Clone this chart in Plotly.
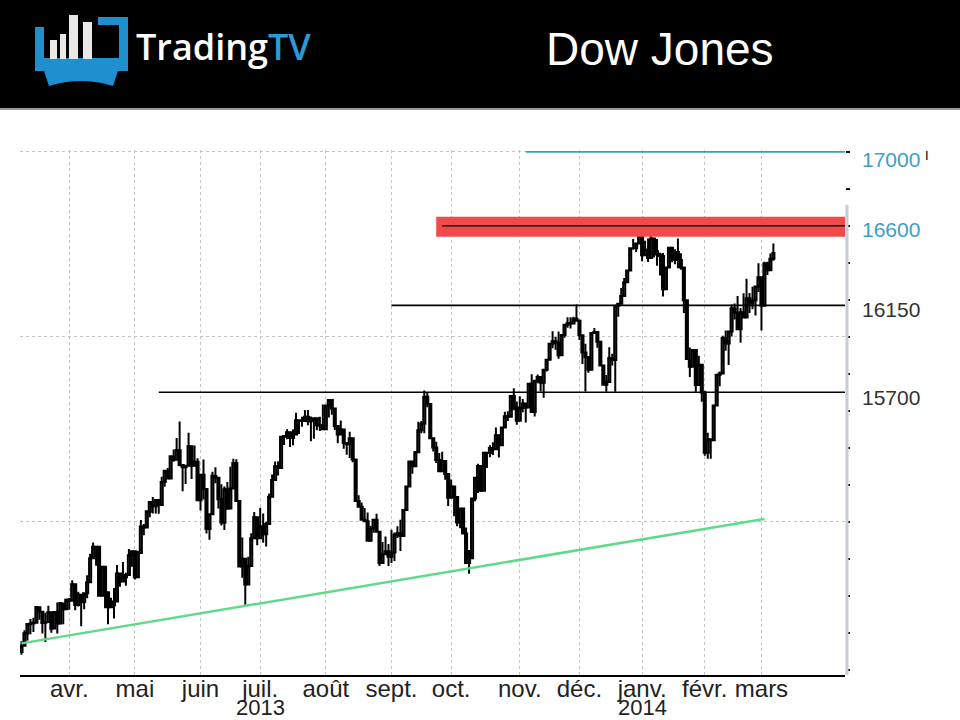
import pandas as pd
import plotly.graph_objects as go

# Dow Jones daily candles, 7 Mar 2013 -> 7 Mar 2014
start_day = "2013-03-07"
end_day = "2014-03-07"
holidays = ["2013-03-29", "2013-05-27", "2013-07-04", "2013-09-02", "2013-11-28",
            "2013-12-25", "2014-01-01", "2014-01-20", "2014-02-17"]

opens = [
    # mar 2013
    14296, 14329, 14396, 14446, 14449, 14454, 14538, 14513, 14453, 14457, 14510, 14422, 14512, 14449, 14558, 14527,
    # apr
    14578, 14573, 14662, 14550, 14605, 14566, 14613, 14673, 14802, 14863, 14864, 14600, 14756, 14619, 14538, 14548,
    14568, 14720, 14676, 14700, 14712, 14819,
    # may
    14840, 14700, 14831, 14973, 14969, 15054, 15105, 15083, 15118, 15090, 15214, 15274, 15233, 15353, 15335, 15387,
    15306, 15294, 15303, 15408, 15302, 15324,
    # jun
    15116, 15254, 15177, 14960, 15040, 15247, 15238, 15122, 14994, 15176, 15071, 15180, 15317, 15112, 14758, 14799,
    14660, 14760, 14910, 15024,
    # jul
    14911, 14974, 14932, 14988, 15135, 15225, 15300, 15291, 15460, 15464, 15484, 15452, 15471, 15548, 15544, 15545,
    15568, 15543, 15556, 15559, 15521, 15520,
    # aug
    15500, 15628, 15658, 15612, 15518, 15471, 15498, 15425, 15419, 15451, 15337, 15112, 15081, 15010, 15002, 14897,
    14963, 15010, 14946, 14776, 14824, 14840,
    # sep
    14810, 14834, 14930, 14937, 14922, 15063, 15191, 15326, 15300, 15376, 15494, 15529, 15676, 15636, 15451, 15401,
    15334, 15273, 15328, 15258,
    # oct
    15129, 15191, 15133, 14996, 15072, 14936, 14776, 14802, 15126, 15237, 15301, 15168, 15373, 15371, 15399, 15392,
    15468, 15413, 15509, 15570, 15568, 15680, 15618,
    # nov
    15546, 15615, 15639, 15618, 15746, 15593, 15762, 15783, 15751, 15822, 15876, 15962, 15976, 15968, 15900, 16010,
    16065, 16073, 16072, 16097,
    # dec
    16086, 16008, 15915, 15889, 15822, 16020, 16026, 15973, 15844, 15740, 15755, 15885, 15875, 16168, 16179, 16221,
    16295, 16358, 16479, 16479, 16505,
    # jan 2014
    16572, 16441, 16470, 16426, 16531, 16463, 16445, 16437, 16257, 16374, 16482, 16418, 16459, 16415, 16374, 16198,
    15880, 15838, 15929, 15739, 15849,
    # feb
    15699, 15373, 15446, 15441, 15629, 15795, 15801, 15994, 15964, 16028, 16154, 16130, 16041, 16133, 16104, 16208,
    16180, 16198, 16272,
    # mar
    16322, 16168, 16396, 16360, 16422,
]

highs = [
    14354, 14413, 14448, 14474, 14480, 14540, 14539, 14513, 14508, 14546, 14510, 14515, 14563, 14561, 14558, 14585,
    14587, 14684, 14662, 14621, 14605, 14613, 14710, 14826, 14887, 14865, 14866, 14757, 14756, 14624, 14589, 14641,
    14766, 14720, 14782, 14724, 14853, 14843,
    14840, 14843, 15009, 14988, 15056, 15106, 15133, 15119, 15118, 15243, 15281, 15291, 15355, 15391, 15452, 15542,
    15306, 15294, 15481, 15408, 15412, 15343,
    15254, 15337, 15177, 15040, 15270, 15295, 15238, 15202, 15191, 15215, 15297, 15340, 15338, 15112, 14914, 14799,
    14810, 14938, 15053, 15024,
    15076, 15045, 15000, 15153, 15255, 15326, 15327, 15461, 15467, 15500, 15487, 15499, 15589, 15548, 15568, 15604,
    15604, 15569, 15559, 15559, 15567, 15634,
    15628, 15658, 15658, 15612, 15518, 15547, 15498, 15425, 15487, 15451, 15337, 15143, 15104, 15074, 15050, 14978,
    15013, 15043, 14946, 14890, 14920, 14880,
    14957, 14942, 14975, 15010, 15063, 15192, 15326, 15326, 15382, 15541, 15545, 15709, 15702, 15636, 15451, 15433,
    15372, 15378, 15328, 15258,
    15228, 15191, 15133, 15073, 15072, 14969, 14847, 15126, 15238, 15314, 15301, 15376, 15376, 15414, 15430, 15509,
    15468, 15514, 15594, 15597, 15680, 15721, 15650,
    15678, 15663, 15639, 15750, 15797, 15764, 15796, 15783, 15822, 15877, 15962, 16030, 15999, 16028, 16010, 16065,
    16106, 16105, 16108, 16174,
    16093, 16008, 15962, 15896, 16021, 16048, 16026, 15979, 15844, 15793, 15944, 15908, 16168, 16183, 16264, 16318,
    16358, 16483, 16529, 16505, 16588,
    16572, 16519, 16532, 16563, 16532, 16529, 16454, 16453, 16374, 16487, 16482, 16473, 16531, 16451, 16374, 16198,
    15942, 15930, 15929, 15898, 15849,
    15708, 15481, 15446, 15632, 15798, 15812, 16005, 16034, 16032, 16175, 16180, 16220, 16155, 16235, 16314, 16237,
    16270, 16276, 16398,
    16322, 16406, 16406, 16450, 16505,
]

lows = [
    14280, 14329, 14358, 14391, 14403, 14454, 14470, 14395, 14350, 14457, 14400, 14422, 14395, 14449, 14445, 14527,
    14524, 14573, 14521, 14541, 14434, 14527, 14586, 14673, 14799, 14762, 14598, 14600, 14532, 14445, 14538, 14477,
    14568, 14648, 14676, 14653, 14712, 14756,
    14687, 14700, 14831, 14927, 14969, 15024, 15045, 15044, 15043, 15090, 15189, 15228, 15233, 15324, 15335, 15300,
    15164, 15204, 15303, 15231, 15302, 15115,
    15061, 15120, 14936, 14902, 15040, 15208, 15071, 14980, 14955, 15068, 15071, 15180, 15112, 14758, 14697, 14551,
    14660, 14760, 14910, 14872,
    14911, 14886, 14866, 14988, 15135, 15225, 15250, 15291, 15415, 15446, 15404, 15413, 15471, 15474, 15513, 15540,
    15522, 15435, 15449, 15495, 15491, 15497,
    15500, 15563, 15579, 15496, 15424, 15471, 15395, 15362, 15345, 15321, 15108, 15081, 15010, 15002, 14897, 14897,
    14940, 14946, 14760, 14776, 14820, 14760,
    14777, 14788, 14912, 14842, 14922, 15063, 15191, 15259, 15300, 15376, 15478, 15478, 15619, 15451, 15379, 15317,
    15270, 15273, 15227, 15085,
    15129, 15030, 14976, 14964, 14935, 14776, 14719, 14802, 15110, 15155, 15160, 15168, 15291, 15349, 15361, 15392,
    15347, 15413, 15509, 15545, 15568, 15603, 15524,
    15546, 15592, 15536, 15618, 15593, 15569, 15748, 15704, 15670, 15812, 15876, 15938, 15930, 15881, 15900, 15995,
    16049, 16045, 16070, 16085,
    15982, 15853, 15704, 15806, 15822, 16015, 15941, 15843, 15739, 15703, 15755, 15845, 15703, 16108, 16179, 16221,
    16295, 16358, 16471, 16458, 16505,
    16408, 16441, 16405, 16426, 16429, 16384, 16332, 16218, 16257, 16374, 16403, 16392, 16371, 16363, 16128, 15879,
    15783, 15838, 15703, 15739, 15648,
    15356, 15341, 15340, 15441, 15629, 15732, 15801, 15924, 15847, 16002, 16094, 16036, 15968, 16103, 16104, 16129,
    16149, 16115, 16242,
    16034, 16168, 16334, 16360, 16411,
]

closes = [
    14329, 14397, 14447, 14450, 14455, 14539, 14514, 14452, 14456, 14511, 14421, 14512, 14448, 14560, 14527, 14578,
    14573, 14662, 14550, 14606, 14565, 14613, 14673, 14802, 14865, 14865, 14599, 14757, 14619, 14537, 14548, 14568,
    14720, 14676, 14700, 14712, 14819, 14840,
    14700, 14831, 14974, 14969, 15056, 15106, 15083, 15118, 15091, 15215, 15275, 15233, 15354, 15335, 15388, 15307,
    15294, 15303, 15409, 15302, 15324, 15116,
    15254, 15177, 14960, 15040, 15248, 15238, 15122, 14995, 15176, 15070, 15180, 15318, 15112, 14758, 14800, 14660,
    14760, 14910, 15024, 14910,
    14975, 14932, 14988, 15135, 15225, 15300, 15291, 15460, 15464, 15484, 15452, 15471, 15548, 15544, 15545, 15568,
    15543, 15556, 15559, 15521, 15520, 15500,
    15628, 15658, 15612, 15518, 15471, 15498, 15425, 15419, 15451, 15337, 15112, 15081, 15010, 15002, 14897, 14963,
    15010, 14946, 14776, 14824, 14840, 14810,
    14834, 14930, 14937, 14922, 15063, 15191, 15326, 15300, 15376, 15494, 15529, 15676, 15636, 15451, 15401, 15334,
    15273, 15328, 15258, 15129,
    15191, 15133, 14996, 15072, 14936, 14776, 14802, 15126, 15237, 15301, 15168, 15373, 15371, 15399, 15392, 15468,
    15413, 15509, 15570, 15568, 15680, 15618, 15546,
    15615, 15639, 15618, 15746, 15593, 15762, 15783, 15751, 15822, 15876, 15962, 15976, 15968, 15900, 16010, 16065,
    16073, 16072, 16097, 16086,
    16008, 15915, 15889, 15822, 16020, 16026, 15973, 15844, 15740, 15755, 15885, 15875, 16168, 16179, 16221, 16295,
    16358, 16479, 16479, 16505, 16577,
    16441, 16470, 16426, 16531, 16463, 16445, 16437, 16257, 16374, 16482, 16418, 16459, 16415, 16374, 16198, 15880,
    15838, 15929, 15739, 15849, 15699,
    15373, 15446, 15441, 15629, 15795, 15801, 15994, 15964, 16028, 16154, 16130, 16041, 16133, 16104, 16208, 16180,
    16198, 16272, 16322,
    16168, 16396, 16360, 16422, 16453,
]

# month ticks (first trading day of each month)
month_days = ["2013-04-01", "2013-05-01", "2013-06-03", "2013-07-01", "2013-08-01", "2013-09-03",
              "2013-10-01", "2013-11-01", "2013-12-02", "2014-01-02", "2014-02-03", "2014-03-03"]
month_names = ["avr.", "mai", "juin", "juil.", "août", "sept.", "oct.", "nov.", "déc.", "janv.", "févr.", "mars"]
year_days = ["2013-07-01", "2014-01-02"]
year_names = ["2013", "2014"]

# drawn levels (start day, value) and their labels
level_starts = ["2013-11-05", "2013-09-26", "2013-09-03", "2013-05-13"]
level_values = [17000, 16600, 16170, 15700]
label_values = [17000, 16600, 16150, 15700]
label_shifts = [-8, -4, 0, -5]
label_colors = ["#3f9dc6", "#3f9dc6", "#333333", "#333333"]
level_colors = ["#3aa0ba", "black", "black", "black"]
zone_start = "2013-09-24"
zone_low, zone_high = 16541, 16649

trend_days = ["2013-03-07", "2014-03-04"]
trend_values = [14342, 15015]

dates = [d for d in pd.bdate_range(start_day, end_day) if d.strftime("%Y-%m-%d") not in holidays]
assert len(dates) == len(closes) == len(opens) == len(highs) == len(lows)
xs = [d + pd.Timedelta(hours=12) for d in dates]

def noon(d):
    return pd.Timestamp(d) + pd.Timedelta(hours=12)

# pixel -> paper helpers (plot area 20..845 x 150..675)
def px(x):
    return (x - 20) / 825

def py(y):
    return (675 - y) / 525

axis_font = "Liberation Sans, Arial"
fig = go.Figure()

fig.add_trace(go.Candlestick(
    x=xs, open=opens, high=highs, low=lows, close=closes,
    increasing=dict(line=dict(color="black", width=2), fillcolor="white"),
    decreasing=dict(line=dict(color="black", width=2), fillcolor="black"),
    whiskerwidth=0, showlegend=False, hoverinfo="skip",
))

fig.add_trace(go.Scatter(
    x=[noon(d) for d in trend_days], y=trend_values, mode="lines",
    line=dict(color="#5fd98a", width=2.5), showlegend=False, hoverinfo="skip",
))

# red resistance zone
fig.add_shape(type="rect", xref="x", yref="y", x0=noon(zone_start), x1="2014-04-11", y0=zone_low, y1=zone_high,
              fillcolor="#f04a4a", line_width=0, layer="above")
for s, v, c in zip(level_starts, level_values, level_colors):
    fig.add_shape(type="line", xref="x", yref="y", x0=noon(s), x1="2014-04-11", y0=v, y1=v,
                  line=dict(color=c, width=1.6), layer="above")

# right axis bar
fig.add_shape(type="line", xref="paper", yref="y", x0=px(847), x1=px(847), y0=16712, y1=14171,
              line=dict(color="#c6cdd8", width=3))

# header band
fig.add_shape(type="rect", xref="paper", yref="paper", x0=px(-5), x1=px(965), y0=py(108), y1=py(-5),
              fillcolor="black", line_width=0)
fig.add_shape(type="line", xref="paper", yref="paper", x0=px(0), x1=px(960), y0=py(109), y1=py(109),
              line=dict(color="#9a9a9a", width=2))

# logo
blue = "#1f8fd0"
for x0, y0, x1, y1 in [(35, 27, 44, 62), (98, 17, 128, 25), (119, 17, 128, 70), (35, 58, 128, 71)]:
    fig.add_shape(type="rect", xref="paper", yref="paper", x0=px(x0), x1=px(x1), y0=py(y1), y1=py(y0),
                  fillcolor=blue, line_width=0)
stand = "M {} {} L {} {} L {} {} Q {} {} {} {} Z".format(
    px(44), py(71), px(118), py(71), px(113), py(86), px(81), py(76), px(49), py(86))
fig.add_shape(type="path", xref="paper", yref="paper", path=stand, fillcolor=blue, line_width=0)
for x0, y0, x1 in [(50, 40, 57), (60, 34, 66), (69, 15, 78), (83, 22, 92)]:
    fig.add_shape(type="rect", xref="paper", yref="paper", x0=px(x0), x1=px(x1), y0=py(59), y1=py(y0),
                  fillcolor="#e8e8e8", line_width=0)

fig.add_annotation(text="Trading<span style='color:#2a9ad8'>TV</span>", xref="paper", yref="paper",
                   x=px(134), y=py(47), xanchor="left", yanchor="middle", showarrow=False,
                   font=dict(family="Open Sans", size=36, color="white", weight=600))
fig.add_annotation(text="Dow Jones", xref="paper", yref="paper", x=px(660), y=py(49),
                   xanchor="center", yanchor="middle", showarrow=False,
                   font=dict(family="Liberation Sans, Arial", size=46, color="white"))
fig.add_annotation(text="I", xref="paper", yref="paper", x=px(931), y=py(146),
                   showarrow=False, font=dict(family="Liberation Sans", size=13, color="black"))

for v, s, c in zip(label_values, label_shifts, label_colors):
    fig.add_annotation(text=str(v), xref="paper", yref="y", x=px(860), y=v, yshift=s,
                       xanchor="left", yanchor="middle", showarrow=False,
                       font=dict(family="Liberation Sans, Arial", size=21, color=c))

for d, t in zip(year_days, year_names):
    fig.add_annotation(text=t, xref="x", yref="paper", x=noon(d), y=py(707),
                       xanchor="center", yanchor="middle", showarrow=False,
                       font=dict(family=axis_font, size=22, color="#222222"))

fig.update_layout(
    width=960, height=720, template="none",
    paper_bgcolor="white", plot_bgcolor="white",
    margin=dict(l=20, r=115, t=150, b=45),
    showlegend=False, boxgap=0,
    xaxis=dict(
        type="date", range=["2013-03-07", "2014-04-10 12:00"],
        rangebreaks=[dict(bounds=["sat", "mon"]), dict(values=holidays)],
        rangeslider=dict(visible=False),
        tickvals=[noon(d) for d in month_days], ticktext=month_names, tickangle=0,
        tickfont=dict(family=axis_font, size=24, color="#222222"), ticklabelstandoff=-9,
        ticks="", showline=True, linecolor="black", linewidth=2,
        showgrid=True, gridcolor="#c4c4c4", griddash="dot", gridwidth=1,
        zeroline=False, automargin=False,
    ),
    yaxis=dict(
        side="right", range=[14171, 17010], tick0=0, dtick=1000,
        showticklabels=False, ticks="outside", ticklen=4, tickwidth=2, tickcolor="#111111",
        showgrid=True, gridcolor="#c4c4c4", griddash="dot", gridwidth=1,
        minor=dict(dtick=200, ticks="outside", ticklen=4, tickwidth=2, tickcolor="#111111", showgrid=False),
        showline=False, zeroline=False, automargin=False,
    ),
)

fig.write_html("out.html", config={"displayModeBar": False},
               post_script="document.body.style.margin='0';")
